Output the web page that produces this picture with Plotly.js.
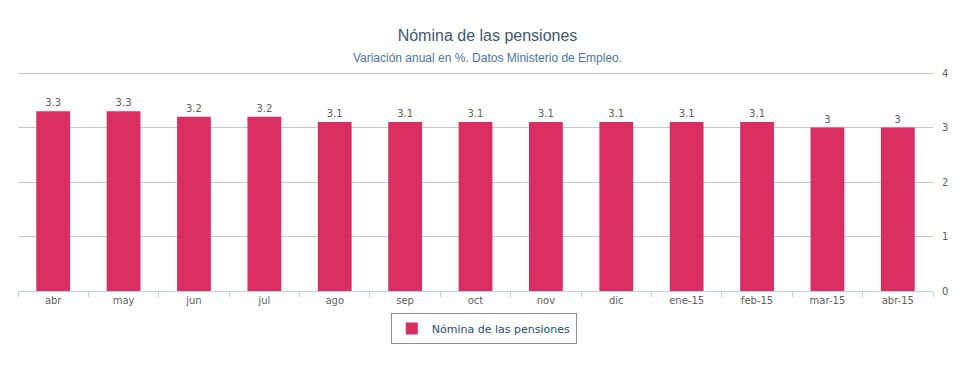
<!DOCTYPE html>
<html><head><meta charset="utf-8">
<script src="https://cdn.plot.ly/plotly-3.0.1.min.js"></script>
<style>body{margin:0;background:#fff}#c{width:975px;height:390px}</style>
</head><body><div id="c"></div>
<script>
const categories = ["abr","may","jun","jul","ago","sep","oct","nov","dic","ene-15","feb-15","mar-15","abr-15"];
const values = [3.3,3.3,3.2,3.2,3.1,3.1,3.1,3.1,3.1,3.1,3.1,3,3];
const seriesName = "Nómina de las pensiones";
const yTicks = [0,1,2,3,4];

const trace = {
  type: 'bar', x: categories, y: values, name: seriesName,
  marker: {color: '#DA2E62'},
  text: values.map(v => String(v)), textposition: 'outside', cliponaxis: false,
  textfont: {family: 'DejaVu Sans', size: 10, color: '#606060'},
  hoverinfo: 'x+y'
};
const layout = {
  width: 975, height: 390,
  margin: {l: 18, r: 42, t: 72, b: 99},
  paper_bgcolor: '#fff', plot_bgcolor: '#fff',
  bargap: 0.52,
  showlegend: true,
  title: {text: 'Nómina de las pensiones<br><span style="font-size:12px;color:#4d759e">Variación anual en %. Datos Ministerio de Empleo.</span>',
    font: {family: 'Liberation Sans, Arial', size: 16, color: '#3E576F'}, x: 0.5, xanchor: 'center', y: 0.895, yanchor: 'top'},
  xaxis: {type: 'category', tickson: 'boundaries', ticks: 'outside', ticklen: 5, tickcolor: '#C0D0E0',
    showline: true, linecolor: '#C0D0E0', linewidth: 1, showgrid: false,
    tickfont: {family: 'DejaVu Sans', size: 10, color: '#606060'}},
  yaxis: {side: 'right', range: [0, 4.02], tickvals: yTicks, ticktext: yTicks.map(String), showgrid: true, gridcolor: '#C8C8C8', gridwidth: 1,
    zeroline: false, showline: false, ticks: '', ticklabelstandoff: 8, tickfont: {family: 'DejaVu Sans', size: 10, color: '#606060'}},
  legend: {orientation: 'h', x: 0.509, xanchor: 'center', y: -0.1, yanchor: 'top', bordercolor: '#909090', borderwidth: 1,
    font: {family: 'DejaVu Sans', size: 11, color: '#274B6D'}}
};
Plotly.newPlot('c', [trace], layout, {displayModeBar: false});
</script></body></html>
